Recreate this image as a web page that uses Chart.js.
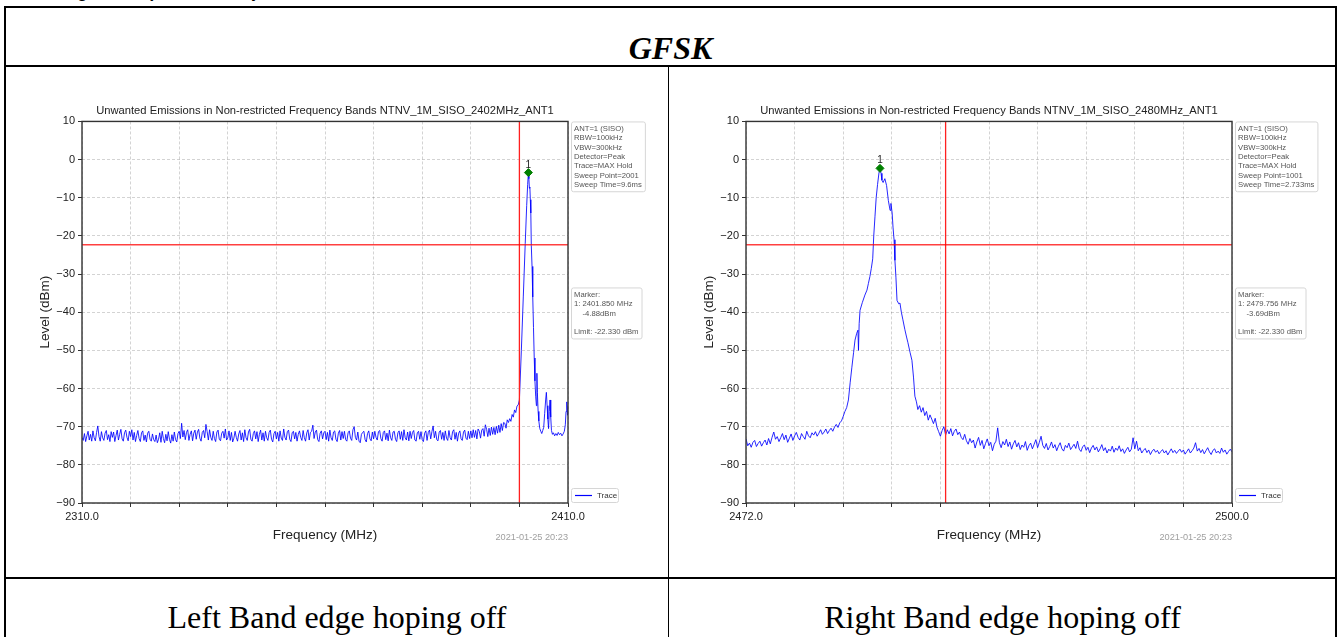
<!DOCTYPE html>
<html lang="en">
<head>
<meta charset="UTF-8">
<title>GFSK band edge</title>
<script src="https://cdn.jsdelivr.net/npm/chart.js"></script>
<style>
  body { margin: 0; background: #fff; width: 1341px; height: 637px; overflow: hidden; position: relative; }
  .ln { position: absolute; background: #000; }
  .cut { position: absolute; left: 37px; top: -18px; font: italic bold 18px/18px "Liberation Serif", serif; white-space: nowrap; letter-spacing: -0.3px; }
  .head { position: absolute; left: 6px; width: 1329px; top: 30px; text-align: center; font: italic bold 32px/36px "Liberation Serif", serif; }
  .cap { position: absolute; top: 599px; text-align: center; white-space: nowrap; font: 32px/36px "Liberation Serif", serif; }
  canvas { position: absolute; }
</style>
</head>
<body>
<div class="cut">Testing Result of Channel Only</div>
<div class="ln" style="left:4px;top:6px;width:1333px;height:2px"></div>
<div class="ln" style="left:4px;top:6px;width:2px;height:640px"></div>
<div class="ln" style="left:1335px;top:6px;width:2px;height:640px"></div>
<div class="ln" style="left:4px;top:65px;width:1333px;height:2px"></div>
<div class="ln" style="left:668px;top:66px;width:1px;height:580px"></div>
<div class="ln" style="left:4px;top:577px;width:1333px;height:2px"></div>
<div class="head">GFSK</div>
<canvas id="left" width="650" height="470" style="left:10px;top:88px"></canvas>
<canvas id="right" width="650" height="470" style="left:674px;top:88px"></canvas>
<div class="cap" style="left:6px;width:662px">Left Band edge hoping off</div>
<div class="cap" style="left:670px;width:665px">Right Band edge hoping off</div>
<script>
// ---- left plot (2310 - 2410 MHz) ----
const leftRange = [2310, 2410];
const leftFloorStart = 2310;
const leftFloorStep = 0.25;
const leftFloor = [
  -72.9,-73.6,-71.8,-73.9,-72.4,-71.2,-73.5,-72.0,-73.8,-71.1,-72.9,-73.7,-71.5,-69.8,-72.6,-73.8,-71.3,-72.9,-73.6,-71.7,
  -71.0,-73.4,-72.1,-73.9,-71.3,-72.8,-71.4,-73.9,-72.3,-70.9,-73.5,-72.0,-70.7,-73.2,-73.8,-71.6,-70.9,-72.8,-73.7,-71.2,
  -72.6,-70.8,-73.5,-71.5,-73.9,-72.3,-71.0,-73.1,-73.9,-71.6,-71.1,-73.6,-72.2,-74.0,-71.7,-71.2,-73.3,-73.8,-71.9,-73.4,
  -73.9,-72.2,-74.2,-73.3,-71.6,-74.1,-71.2,-73.1,-74.2,-72.0,-73.7,-71.3,-73.3,-74.3,-72.1,-73.8,-71.4,-73.4,-74.0,-71.8,
  -71.2,-73.1,-69.1,-72.7,-71.0,-73.4,-71.5,-70.8,-73.6,-72.0,-71.1,-73.7,-71.7,-70.9,-73.3,-71.4,-70.7,-73.0,-73.8,-71.5,
  -71.0,-72.9,-69.4,-71.3,-73.5,-70.8,-72.8,-73.6,-71.2,-73.1,-73.9,-71.4,-70.9,-73.3,-73.7,-71.7,-71.2,-73.0,-70.6,-73.5,
  -72.9,-71.1,-73.6,-71.5,-74.0,-73.0,-71.2,-72.8,-73.8,-71.9,-71.0,-73.5,-71.6,-73.9,-70.8,-72.9,-73.6,-71.4,-70.7,-73.3,
  -73.8,-71.8,-71.1,-73.2,-71.3,-73.9,-72.0,-70.9,-73.5,-71.6,-73.8,-71.2,-72.9,-73.6,-71.5,-70.9,-73.3,-74.0,-71.8,-71.2,
  -73.2,-71.5,-73.8,-71.1,-73.0,-73.6,-70.6,-72.8,-73.5,-71.3,-70.9,-73.3,-73.9,-71.6,-71.2,-73.2,-71.5,-73.8,-72.0,-71.1,
  -72.8,-73.6,-71.0,-72.9,-73.8,-71.6,-70.8,-73.5,-71.5,-71.2,-69.6,-73.1,-71.4,-70.9,-73.4,-73.9,-71.7,-71.1,-73.2,-71.6,
  -71.2,-73.4,-71.5,-73.8,-70.9,-72.9,-73.6,-71.4,-71.1,-73.3,-73.9,-71.7,-71.0,-73.5,-71.3,-73.1,-71.2,-73.4,-73.8,-71.6,
  -71.1,-73.0,-73.6,-70.8,-70.0,-72.8,-73.5,-71.4,-73.8,-74.2,-72.0,-71.5,-71.2,-73.4,-74.0,-71.8,-71.1,-73.2,-73.7,-71.4,
  -73.2,-71.2,-72.8,-73.5,-71.3,-71.0,-73.1,-73.8,-71.5,-71.1,-73.4,-71.7,-73.7,-70.9,-72.9,-73.6,-71.4,-71.2,-73.3,-73.9,
  -71.6,-71.1,-73.3,-71.3,-73.6,-70.8,-72.9,-73.5,-71.4,-73.7,-71.2,-73.1,-71.5,-71.0,-73.5,-73.8,-71.6,-71.2,-73.3,-71.3,
  -73.4,-73.9,-71.7,-71.1,-73.6,-71.5,-70.9,-73.2,-71.3,-69.8,-72.9,-71.2,-73.4,-73.7,-71.4,-71.0,-73.3,-71.5,-73.6,-71.1,
  -73.0,-73.6,-71.0,-72.9,-73.5,-71.3,-70.8,-73.3,-71.5,-73.8,-71.7,-71.1,-73.2,-73.6,-71.4,-70.9,-73.0,-73.4,-71.2,-73.1,
  -71.1,-72.9,-70.8,-72.8,-71.0,-73.2,-70.6,-71.2,-73.0,-70.9,-70.5,-72.5,-69.5,-70.7,-72.6,-70.4,-72.3,-70.1,-72.0,-70.2,
  -72.1,-69.9,-71.7,-69.6,-71.5,-69.2,-71.0,-68.9,-69.1,-70.4,-68.2,-68.9,-67.9,-68.6,-66.8,-67.5,-65.6,-66.3,-64.6,-64.3
];
const leftPeakFreq = [
  2400.0, 2400.4, 2400.8, 2401.2, 2401.5, 2401.7, 2401.85, 2401.95, 2402.05, 2402.15, 2402.25, 2402.35, 2402.45,
  2402.6, 2402.75, 2402.9, 2403.05, 2403.2, 2403.35, 2403.5, 2403.6, 2403.7, 2403.85, 2404.0, 2404.2, 2404.4,
  2404.6, 2404.8, 2405.0, 2405.2, 2405.4, 2405.55, 2405.7, 2405.85, 2406.0, 2406.15, 2406.3, 2406.45, 2406.6,
  2406.8, 2407.0, 2407.25, 2407.5, 2407.75, 2408.0, 2408.25, 2408.5, 2408.75, 2409.0, 2409.25, 2409.45, 2409.6,
  2409.75, 2409.9, 2410.0
];
const leftPeakLevel = [
  -63.0, -50.0, -36.0, -22.0, -12.0, -6.5, -3.4, -5.0, -7.5, -7.2, -10.5, -14.0, -22.5,
  -28.0, -36.0, -44.0, -52.0, -58.0, -62.0, -64.5, -56.0, -61.0, -66.0, -68.5, -70.5, -71.2,
  -71.8, -71.0, -70.2, -66.5, -63.0, -61.0, -64.5, -68.0, -70.5, -66.0, -63.0, -67.5, -71.0,
  -72.0, -71.6, -72.4, -71.8, -72.3, -71.5, -72.1, -71.7, -72.4, -71.9, -71.2, -69.5, -66.0,
  -63.5, -67.0, -64.5
];
const leftEdge = 2400;
const leftMarker = [2401.85, -3.4];
const leftTitle = 'Unwanted Emissions in Non-restricted Frequency Bands NTNV_1M_SISO_2402MHz_ANT1';
const leftInfo = ['ANT=1 (SISO)', 'RBW=100kHz', 'VBW=300kHz', 'Detector=Peak', 'Trace=MAX Hold', 'Sweep Point=2001', 'Sweep Time=9.6ms'];
const leftMarkerText = ['Marker:', '1: 2401.850 MHz', '    -4.88dBm', '', 'Limit: -22.330 dBm'];

// ---- right plot (2472 - 2500 MHz) ----
const rightRange = [2472, 2500];
const rightStep = 0.1;
const rightLowStart = 2472;
const rightLow = [
  -73.2,-75.0,-74.3,-75.4,-74.1,-73.6,-75.2,-74.4,-73.8,-75.1,
  -74.2,-73.5,-74.8,-73.1,-74.5,-72.8,-71.4,-73.3,-72.6,-73.9,
  -72.9,-71.8,-73.4,-72.2,-74.1,-73.0,-71.9,-73.6,-72.4,-71.5,
  -72.8,-73.5,-71.8,-72.6,-73.3,-71.2,-72.4,-72.9,-71.6,-72.2,
  -71.3,-72.5,-71.7,-70.8,-72.0,-71.4,-70.6,-71.8,-71.0,-70.4,
  -71.2,-70.1,-69.4,-70.2,-69.0,-68.5,-67.3,-66.0
];
const rightPeakFreq = [
  2477.8, 2477.9, 2478.0, 2478.1, 2478.2, 2478.28, 2478.38, 2478.45, 2478.48, 2478.52, 2478.57, 2478.7,
  2478.85, 2478.97, 2479.05, 2479.14, 2479.22, 2479.3, 2479.36, 2479.43, 2479.5, 2479.58, 2479.66, 2479.72,
  2479.78, 2479.83, 2479.9, 2480.0, 2480.1, 2480.2, 2480.3, 2480.35, 2480.42, 2480.47, 2480.53, 2480.58,
  2480.64, 2480.7, 2480.8, 2480.87, 2480.95, 2481.04, 2481.15, 2481.25, 2481.33, 2481.45, 2481.56, 2481.65,
  2481.73, 2481.82, 2481.9
];
const rightPeakLevel = [
  -65.0, -63.0, -58.5, -54.4, -50.5, -47.3, -45.5, -44.7, -50.0, -43.0, -39.5, -37.5,
  -35.5, -34.2, -32.5, -30.6, -28.5, -26.0, -20.0, -15.0, -10.0, -6.5, -3.5, -2.3,
  -3.6, -5.4, -6.0, -5.0, -6.8, -10.7, -13.3, -11.5, -14.0, -17.7, -21.0, -26.4,
  -31.0, -36.9, -37.8, -37.6, -40.0, -42.0, -44.5, -46.5, -48.0, -50.5, -52.6, -57.0,
  -62.0, -63.5, -65.5
];
const rightHighStart = 2482;
const rightHigh = [
  -64.5,-66.2,-65.0,-67.1,-66.0,-68.3,-66.9,-68.0,-69.2,-67.8,
  -70.1,-71.3,-72.5,-71.0,-70.0,-72.2,-70.8,-71.9,-70.5,-72.4,
  -71.2,-70.6,-72.1,-71.4,-72.8,-73.4,-72.0,-73.7,-74.6,-73.1,
  -74.2,-73.5,-75.6,-74.0,-72.8,-74.9,-73.6,-75.8,-74.4,-73.2,
  -75.0,-74.1,-76.3,-74.6,-73.8,-70.3,-74.2,-75.5,-73.9,-74.8,
  -73.3,-75.2,-74.0,-75.9,-74.5,-73.6,-75.3,-74.2,-76.0,-74.8,
  -75.4,-73.9,-76.2,-75.0,-74.3,-75.8,-74.6,-73.4,-75.5,-74.1,
  -72.5,-74.9,-75.7,-74.4,-76.1,-75.2,-74.0,-75.6,-74.7,-76.3,
  -75.1,-74.2,-75.8,-76.4,-74.9,-75.5,-74.3,-76.0,-75.3,-74.6,
  -75.7,-73.8,-75.9,-76.5,-75.2,-74.8,-76.2,-75.4,-76.8,-75.6,
  -74.9,-76.1,-75.3,-76.6,-75.8,-74.7,-76.3,-75.5,-76.9,-75.9,
  -76.4,-75.1,-76.7,-75.6,-76.2,-75.0,-76.5,-75.8,-77.0,-76.1,
  -75.4,-76.6,-75.9,-72.9,-75.8,-73.8,-76.3,-75.5,-76.9,-76.2,
  -75.7,-76.8,-76.1,-77.3,-76.4,-75.9,-76.7,-76.2,-77.1,-76.5,
  -76.0,-76.9,-76.3,-77.4,-76.6,-75.8,-76.8,-76.2,-77.0,-76.4,
  -75.9,-76.7,-76.1,-77.2,-76.5,-75.8,-76.9,-76.3,-75.6,-74.2,
  -76.4,-75.7,-76.8,-76.0,-77.1,-76.3,-75.5,-76.6,-77.3,-76.2,
  -75.8,-76.9,-76.4,-77.0,-75.6,-76.7,-76.1,-77.2,-76.5,-75.9,
  -76.6
];
const rightEdge = 2483.5;
const rightMarker = [2479.72, -2.3];
const rightTitle = 'Unwanted Emissions in Non-restricted Frequency Bands NTNV_1M_SISO_2480MHz_ANT1';
const rightInfo = ['ANT=1 (SISO)', 'RBW=100kHz', 'VBW=300kHz', 'Detector=Peak', 'Trace=MAX Hold', 'Sweep Point=1001', 'Sweep Time=2.733ms'];
const rightMarkerText = ['Marker:', '1: 2479.756 MHz', '    -3.69dBm', '', 'Limit: -22.330 dBm'];

// ---- shared ----
const levelRange = [-90, 10];
const limitLevel = -22.33;
const stamp = '2021-01-25 20:23';
const SANS = '"Liberation Sans", Arial, sans-serif';

function stepPoints(start, step, levels) {
  return levels.map((y, i) => ({ x: +(start + i * step).toFixed(3), y: y }));
}
function pairPoints(freqs, levels) {
  return freqs.map((f, i) => ({ x: f, y: levels[i] }));
}

function drawBox(ctx, x, y, lines) {
  ctx.font = '7.7px ' + SANS;
  const lh = 9.4;
  const w = Math.max(...lines.map(t => ctx.measureText(t).width)) + 6;
  const h = lines.length * lh + 4;
  ctx.fillStyle = 'rgba(255,255,255,0.85)';
  ctx.strokeStyle = '#d6d6d6';
  ctx.lineWidth = 1;
  ctx.beginPath();
  ctx.roundRect(x + 0.5, y + 0.5, w, h, 2);
  ctx.fill();
  ctx.stroke();
  ctx.fillStyle = '#555';
  ctx.textAlign = 'left';
  ctx.textBaseline = 'middle';
  lines.forEach((t, i) => ctx.fillText(t, x + 3, y + 2.5 + lh * (i + 0.5)));
}

const panelPlugin = {
  id: 'panel',
  afterDraw(chart, args, o) {
    const { ctx, chartArea: a, scales } = chart;
    ctx.save();
    // axes frame
    ctx.strokeStyle = '#333';
    ctx.lineWidth = 1.4;
    ctx.strokeRect(a.left, a.top, a.right - a.left, a.bottom - a.top);
    // marker number
    const mx = scales.x.getPixelForValue(o.marker[0]);
    const my = scales.y.getPixelForValue(o.marker[1]);
    ctx.fillStyle = '#222';
    ctx.font = '10px ' + SANS;
    ctx.textAlign = 'center';
    ctx.textBaseline = 'alphabetic';
    ctx.fillText('1', mx, my - 5);
    // side boxes
    drawBox(ctx, a.right + 3, a.top, o.info);
    drawBox(ctx, a.right + 3, a.top + 166, o.markerText);
    // legend
    ctx.font = '8px ' + SANS;
    const lx = a.right + 3, ly = a.bottom - 15;
    ctx.fillStyle = '#fff';
    ctx.strokeStyle = '#d6d6d6';
    ctx.beginPath();
    ctx.roundRect(lx + 0.5, ly + 0.5, 47, 14, 2);
    ctx.fill();
    ctx.stroke();
    ctx.strokeStyle = '#0000ff';
    ctx.lineWidth = 1.2;
    ctx.beginPath();
    ctx.moveTo(lx + 4, ly + 7.5);
    ctx.lineTo(lx + 21, ly + 7.5);
    ctx.stroke();
    ctx.fillStyle = '#333';
    ctx.textAlign = 'left';
    ctx.textBaseline = 'middle';
    ctx.fillText('Trace', lx + 26, ly + 7.5);
    // time stamp
    ctx.fillStyle = '#a0a0a0';
    ctx.font = '9.2px ' + SANS;
    ctx.textAlign = 'right';
    ctx.fillText(o.stamp, a.right, a.bottom + 34);
    ctx.restore();
  }
};

function makeChart(id, range, step, trace, edge, marker, title, info, markerText) {
  const ctx = document.getElementById(id).getContext('2d');
  return new Chart(ctx, {
    type: 'scatter',
    data: {
      datasets: [
        {
          label: 'Marker',
          data: [{ x: marker[0], y: marker[1] }],
          pointStyle: 'rectRot',
          pointRadius: 4,
          backgroundColor: '#008000',
          borderColor: '#008000',
          showLine: false,
          order: 0
        },
        {
          label: 'Limit',
          data: [{ x: range[0], y: limitLevel }, { x: range[1], y: limitLevel }],
          borderColor: 'rgba(255,0,0,0.75)',
          borderWidth: 1.4,
          pointRadius: 0,
          showLine: true,
          order: 1
        },
        {
          label: 'Edge',
          data: [{ x: edge, y: levelRange[0] }, { x: edge, y: levelRange[1] }],
          borderColor: '#ff2020',
          borderWidth: 1.3,
          pointRadius: 0,
          showLine: true,
          order: 2
        },
        {
          label: 'Trace',
          data: trace,
          borderColor: '#0000ff',
          borderWidth: 0.85,
          pointRadius: 0,
          showLine: true,
          tension: 0,
          order: 3
        }
      ]
    },
    options: {
      responsive: false,
      animation: false,
      devicePixelRatio: 1,
      layout: { padding: { left: 23, right: 92, top: 0, bottom: 11 } },
      plugins: {
        legend: { display: false },
        tooltip: { enabled: false },
        title: {
          display: true,
          fullSize: false,
          text: title,
          color: '#222',
          font: { family: SANS, size: 11.2, weight: 'normal' },
          padding: { top: 16, bottom: 4 }
        },
        panel: { marker: marker, info: info, markerText: markerText, stamp: stamp }
      },
      scales: {
        x: {
          type: 'linear',
          min: range[0],
          max: range[1],
          afterFit: s => { s.height = 44; },
          ticks: {
            stepSize: step,
            autoSkip: false,
            maxRotation: 0,
            padding: 3,
            color: '#222',
            font: { family: SANS, size: 11 },
            callback: (v, i, t) => (i === 0 || i === t.length - 1) ? v.toFixed(1) : ''
          },
          grid: {
            color: 'rgba(0,0,0,0.22)',
            lineWidth: 0.8,
            tickLength: 4,
            tickColor: '#333',
            tickWidth: 1,
            tickBorderDash: []
          },
          border: { display: false, dash: [3, 2] },
          title: {
            display: true,
            text: 'Frequency (MHz)',
            color: '#222',
            font: { family: SANS, size: 13.5 },
            padding: { top: 4, bottom: 4 }
          }
        },
        y: {
          min: levelRange[0],
          max: levelRange[1],
          afterFit: s => { s.width = 49; },
          ticks: {
            stepSize: 10,
            padding: 3,
            color: '#222',
            font: { family: SANS, size: 11 },
            callback: v => String(v).replace('-', '\u2212')
          },
          grid: {
            color: 'rgba(0,0,0,0.22)',
            lineWidth: 0.8,
            tickLength: 4,
            tickColor: '#333',
            tickWidth: 1,
            tickBorderDash: []
          },
          border: { display: false, dash: [3, 2] },
          title: {
            display: true,
            text: 'Level (dBm)',
            color: '#222',
            font: { family: SANS, size: 13.5 },
            padding: { top: 4, bottom: 4 }
          }
        }
      }
    },
    plugins: [panelPlugin]
  });
}

const leftTrace = stepPoints(leftFloorStart, leftFloorStep, leftFloor).concat(pairPoints(leftPeakFreq, leftPeakLevel));
const rightTrace = stepPoints(rightLowStart, rightStep, rightLow)
  .concat(pairPoints(rightPeakFreq, rightPeakLevel))
  .concat(stepPoints(rightHighStart, rightStep, rightHigh));

makeChart('left', leftRange, 10, leftTrace, leftEdge, leftMarker, leftTitle, leftInfo, leftMarkerText);
makeChart('right', rightRange, 2.8, rightTrace, rightEdge, rightMarker, rightTitle, rightInfo, rightMarkerText);
</script>
</body>
</html>
